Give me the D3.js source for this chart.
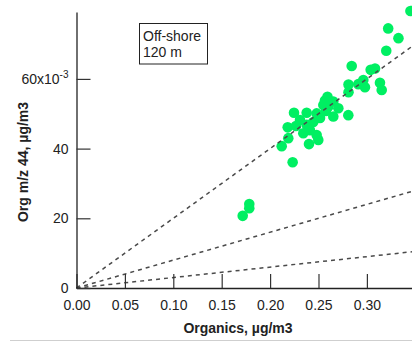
<!DOCTYPE html>
<html>
<head>
<meta charset="utf-8">
<script src="https://cdn.jsdelivr.net/npm/d3@7"></script>
<style>
  html, body { margin: 0; padding: 0; background: #fff; }
  svg { display: block; font-family: "Liberation Sans", Arial, sans-serif; }
</style>
</head>
<body>
<svg id="chart" width="412" height="341"></svg>
<script>
// Organic mass vs. m/z 44 organic signal, off-shore 120 m samples
const organics = [0.345, 0.322, 0.3326, 0.320, 0.2843, 0.3039, 0.3084, 0.2963, 0.2911, 0.298,
  0.281, 0.281, 0.3135, 0.3153, 0.2593, 0.2567, 0.255, 0.260, 0.2653, 0.2705,
  0.2808, 0.2653, 0.2481, 0.2247, 0.2378, 0.2182, 0.2309, 0.2378, 0.2446, 0.2188,
  0.212, 0.2402, 0.2498, 0.2481, 0.2343, 0.2233, 0.1785, 0.1785, 0.1717, 0.2516,
  0.2412, 0.2267, 0.2577];
const org44 = [0.0795, 0.0745, 0.0717, 0.0681, 0.0637, 0.0626, 0.0630, 0.0597, 0.0585, 0.0576,
  0.0584, 0.0562, 0.0589, 0.0568, 0.0549, 0.0538, 0.0525, 0.0520, 0.0535, 0.0516,
  0.0496, 0.0492, 0.0501, 0.0503, 0.0503, 0.0461, 0.0482, 0.0468, 0.0476, 0.0430,
  0.0407, 0.0413, 0.0425, 0.0439, 0.0444, 0.0361, 0.0241, 0.0229, 0.0207, 0.0488,
  0.0453, 0.0465, 0.0508];
// reference ratios (m/z 44 fraction of organics)
const refSlopes = [0.2, 0.08, 0.03];
const xTicks = [0, 0.05, 0.10, 0.15, 0.20, 0.25, 0.30];
const yTicks = [0, 0.02, 0.04, 0.06];
const legendLines = ["Off-shore", "120 m"];

const svg = d3.select("#chart");
const x = d3.scaleLinear().domain([0, 0.3466]).range([76.5, 412]);
const y = d3.scaleLinear().domain([0, 0.0792]).range([288, 12]);

// bottom frame edge
svg.append("line").attr("x1", 10).attr("x2", 412).attr("y1", 340.5).attr("y2", 340.5)
  .attr("stroke", "#cfcfcf").attr("stroke-width", 1);

// scatter points
svg.append("g").selectAll("circle")
  .data(organics.map((v, i) => [v, org44[i]]))
  .join("circle")
  .attr("cx", d => x(d[0]))
  .attr("cy", d => y(d[1]))
  .attr("r", 5.3)
  .attr("fill", "#00ef62");

// reference lines through origin
svg.append("g").selectAll("line")
  .data(refSlopes)
  .join("line")
  .attr("x1", x(0)).attr("y1", y(0))
  .attr("x2", x(0.3466)).attr("y2", s => y(s * 0.3466))
  .attr("stroke", "#4a4a4a")
  .attr("stroke-width", 1.5)
  .attr("stroke-dasharray", "4,4");

// x axis
const gx = svg.append("g").attr("transform", "translate(0,288)")
  .call(d3.axisBottom(x).tickValues(xTicks).tickFormat(d3.format(".2f"))
    .tickSizeInner(-14).tickSizeOuter(0).tickPadding(12));
gx.select(".domain").attr("stroke", "#222").attr("stroke-width", 1.3);
gx.selectAll(".tick line").attr("stroke", "#333").attr("stroke-width", 1.2);
gx.selectAll(".tick text").attr("font-size", 14).attr("fill", "#222")
  .attr("font-family", "Liberation Sans, Arial, sans-serif");

// y axis
const gy = svg.append("g").attr("transform", "translate(76.5,0)")
  .call(d3.axisLeft(y).tickValues(yTicks).tickFormat(d => d3.format("d")(Math.round(d * 1000)))
    .tickSizeInner(-14).tickSizeOuter(0).tickPadding(8));
gy.select(".domain").attr("stroke", "#222").attr("stroke-width", 1.3);
gy.selectAll(".tick line").attr("stroke", "#333").attr("stroke-width", 1.2);
gy.selectAll(".tick text").attr("font-size", 14).attr("fill", "#222")
  .attr("font-family", "Liberation Sans, Arial, sans-serif");
// top tick carries the x10^-3 multiplier
gy.selectAll(".tick text").filter(d => d === yTicks[yTicks.length - 1])
  .text(null)
  .call(t => {
    t.append("tspan").text("60x10");
    t.append("tspan").attr("font-size", 10).attr("dy", "-0.55em").text("-3");
  });

// axis titles
svg.append("text").attr("x", 238).attr("y", 333).attr("text-anchor", "middle")
  .attr("font-size", 14).attr("font-weight", "bold").attr("fill", "#222")
  .text("Organics, µg/m3");
svg.append("text").attr("transform", "translate(28,162) rotate(-90)").attr("text-anchor", "middle")
  .attr("font-size", 14).attr("font-weight", "bold").attr("fill", "#222")
  .text("Org m/z 44, µg/m3");

// legend box
const lg = svg.append("g");
lg.append("rect").attr("x", 139.5).attr("y", 23.5).attr("width", 68).attr("height", 40.5)
  .attr("fill", "#fff").attr("stroke", "#222").attr("stroke-width", 1);
lg.selectAll("text").data(legendLines).join("text")
  .attr("x", 143).attr("y", (d, i) => 41 + i * 16)
  .attr("font-size", 14).attr("fill", "#222")
  .text(d => d);
</script>
</body>
</html>
